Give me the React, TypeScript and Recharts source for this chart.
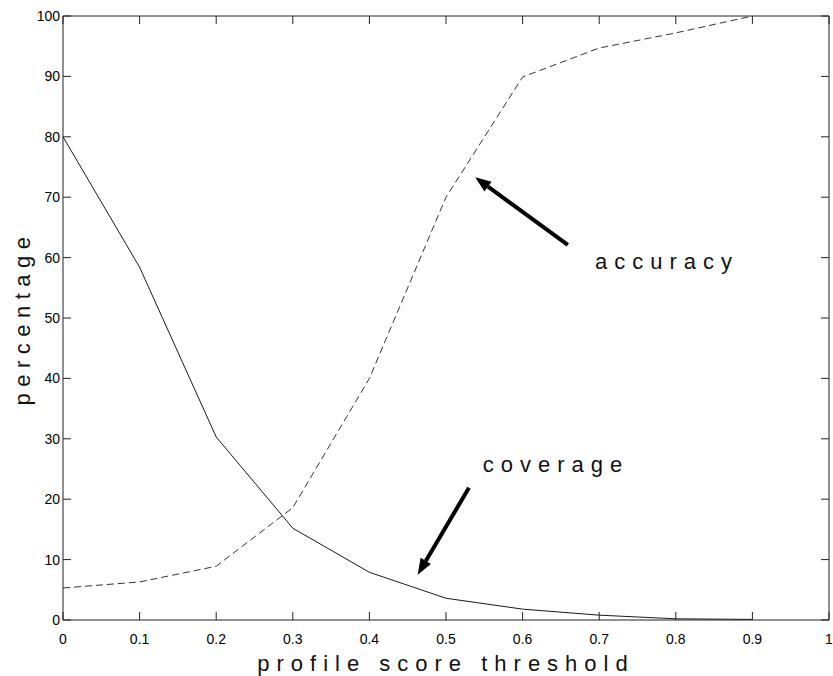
import {
	LineChart,
	Line,
	XAxis,
	YAxis,
	ReferenceLine,
	ReferenceDot,
	ReferenceArea,
	Label,
} from "recharts";

const thresholds = [0, 0.1, 0.2, 0.3, 0.4, 0.5, 0.6, 0.7, 0.8, 0.9];
const coverage = [80, 58.4, 30.3, 15.2, 7.9, 3.6, 1.8, 0.8, 0.2, 0.1];
const accuracy = [5.3, 6.3, 8.9, 18.6, 40, 70, 89.9, 94.7, 97.2, 100];

const xTicks = [0, 0.1, 0.2, 0.3, 0.4, 0.5, 0.6, 0.7, 0.8, 0.9, 1];
const yTicks = [0, 10, 20, 30, 40, 50, 60, 70, 80, 90, 100];

const rows = thresholds.map((t, i) => ({
	t,
	coverage: coverage[i],
	accuracy: accuracy[i],
}));

const font = "'Liberation Sans', Arial, Helvetica, sans-serif";
const ink = "#222";

// plot box, from the chart size and margins below
const W = 833;
const H = 676;
const M = { top: 16, right: 4, left: 63, bottom: 56 };
const plotTop = M.top;
const plotBottom = H - M.bottom;
const plotLeft = M.left;
const plotRight = W - M.right;
const tickLen = 8;

// annotation arrows: tail -> head, in data units
const accuracyArrow = [
	{ x: 0.659, y: 62.1 },
	{ x: 0.538, y: 73.3 },
];
const coverageArrow = [
	{ x: 0.53, y: 21.9 },
	{ x: 0.463, y: 7.5 },
];

function Arrow(props: any) {
	const { x1, y1, x2, y2 } = props;
	const dx = x2 - x1;
	const dy = y2 - y1;
	const len = Math.sqrt(dx * dx + dy * dy);
	const ux = dx / len;
	const uy = dy / len;
	const head = 16;
	const half = 6;
	const bx = x2 - ux * head;
	const by = y2 - uy * head;
	return (
		<g>
			<line x1={x1} y1={y1} x2={bx} y2={by} stroke='#000' strokeWidth={4} />
			<polygon
				points={`${x2},${y2} ${bx - uy * half},${by + ux * half} ${
					bx + uy * half
				},${by - ux * half}`}
				fill='#000'
			/>
		</g>
	);
}

function Note(text: string) {
	return (props: any) => (
		<text
			x={props.cx}
			y={props.cy}
			fontFamily={font}
			fontSize={22}
			letterSpacing={7}
			fill='#111'>
			{text}
		</text>
	);
}

// tick label plus inward tick marks on the bottom and top edges
function XTick(props: any) {
	const { x, y, payload } = props;
	return (
		<g>
			<line x1={x} y1={plotBottom} x2={x} y2={plotBottom - tickLen} stroke={ink} />
			<line x1={x} y1={plotTop} x2={x} y2={plotTop + tickLen} stroke={ink} />
			<text
				x={x}
				y={y}
				dy='0.71em'
				textAnchor='middle'
				fontFamily={font}
				fontSize={14}
				fill='#000'>
				{String(payload.value)}
			</text>
		</g>
	);
}

// tick label plus inward tick marks on the left and right edges
function YTick(props: any) {
	const { x, y, payload } = props;
	return (
		<g>
			<line x1={plotLeft} y1={y} x2={plotLeft + tickLen} y2={y} stroke={ink} />
			<line x1={plotRight} y1={y} x2={plotRight - tickLen} y2={y} stroke={ink} />
			<text
				x={x}
				y={y}
				dy='0.36em'
				textAnchor='end'
				fontFamily={font}
				fontSize={14}
				fill='#000'>
				{String(payload.value)}
			</text>
		</g>
	);
}

export default function App() {
	return (
		<div
			style={{
				position: "absolute",
				left: 0,
				top: 0,
				width: W,
				height: H,
				background: "#fff",
			}}>
			<LineChart
				width={W}
				height={H}
				data={rows}
				margin={{ top: M.top, right: M.right, left: 0, bottom: 0 }}>
				<XAxis
					dataKey='t'
					type='number'
					domain={[0, 1]}
					ticks={xTicks}
					height={M.bottom}
					axisLine={false}
					tickLine={false}
					tickSize={0}
					tickMargin={14}
					tick={<XTick />}>
					<Label
						content={(p: any) => (
							<text
								x={p.viewBox.x + p.viewBox.width / 2}
								y={p.viewBox.y + 51}
								textAnchor='middle'
								fontFamily={font}
								fontSize={22}
								letterSpacing={7}
								fill='#111'>
								profile score threshold
							</text>
						)}
					/>
				</XAxis>
				<YAxis
					type='number'
					domain={[0, 100]}
					ticks={yTicks}
					width={M.left}
					axisLine={false}
					tickLine={false}
					tickSize={0}
					tickMargin={3}
					tick={<YTick />}>
					<Label
						content={(p: any) => {
							const cx = p.viewBox.x + 22;
							const cy = p.viewBox.y + p.viewBox.height / 2;
							return (
								<text
									x={cx}
									y={cy}
									transform={`rotate(-90 ${cx} ${cy})`}
									textAnchor='middle'
									dominantBaseline='central'
									fontFamily={font}
									fontSize={22}
									letterSpacing={6.5}
									fill='#111'>
									percentage
								</text>
							);
						}}
					/>
				</YAxis>
				<ReferenceArea
					x1={0}
					x2={1}
					y1={0}
					y2={100}
					fill='none'
					fillOpacity={0}
					stroke={ink}
					strokeWidth={1}
					ifOverflow='visible'
				/>
				<Line
					type='linear'
					dataKey='coverage'
					stroke='#1a1a1a'
					strokeWidth={1}
					dot={false}
					isAnimationActive={false}
				/>
				<Line
					type='linear'
					dataKey='accuracy'
					stroke='#333'
					strokeWidth={1}
					strokeDasharray='7 4'
					dot={false}
					isAnimationActive={false}
				/>
				<ReferenceLine
					segment={accuracyArrow}
					shape={(p: any) => <Arrow {...p} />}
				/>
				<ReferenceLine
					segment={coverageArrow}
					shape={(p: any) => <Arrow {...p} />}
				/>
				<ReferenceDot x={0.6945} y={58.1} r={0} shape={Note("accuracy")} />
				<ReferenceDot x={0.548} y={24.5} r={0} shape={Note("coverage")} />
			</LineChart>
		</div>
	);
}
